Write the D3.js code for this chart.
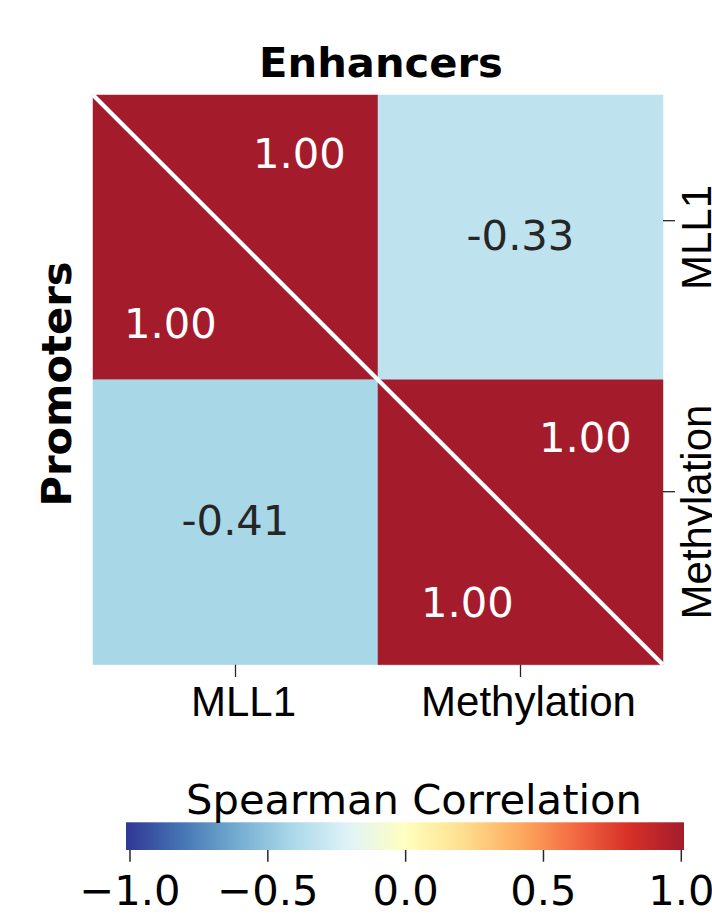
<!DOCTYPE html>
<html>
<head>
<meta charset="utf-8">
<script src="https://cdn.jsdelivr.net/npm/d3@7"></script>
<style>
  html, body { margin: 0; padding: 0; background: #ffffff; }
  svg { display: block; }
</style>
</head>
<body>
<svg id="chart" width="712" height="918"></svg>
<script>
// Variables compared in both correlation matrices
const variables = ["MLL1", "Methylation"];

// Spearman correlations: enhancers fill the upper triangle, promoters the lower one
const enhancerCorr = [
  [1.00, -0.33],
  [-0.33, 1.00]
];
const promoterCorr = [
  [1.00, -0.41],
  [-0.41, 1.00]
];

const colorbarTicks = [-1.0, -0.5, 0.0, 0.5, 1.0];
const titleTop = "Enhancers";
const titleLeft = "Promoters";
const colorbarLabel = "Spearman Correlation";

// RdYlBu (reversed) anchor colours, evenly spaced over [-1, 1]
const paletteStops = ["#313695", "#4575b4", "#74add1", "#abd9e9", "#e0f3f8",
                      "#ffffbf", "#fee090", "#fdae61", "#f46d43", "#d73027", "#a41c2c"];

const svg = d3.select("#chart");

const plot = { left: 93, right: 663, top: 95, bottom: 664.7 };

const x = d3.scaleBand().domain(variables).range([plot.left, plot.right]);
const y = d3.scaleBand().domain(variables).range([plot.top, plot.bottom]);

const color = d3.scaleLinear()
  .domain(paletteStops.map((_, i) => -1 + i * 2 / (paletteStops.length - 1)))
  .range(paletteStops)
  .clamp(true);

const numFont = "'DejaVu Sans', sans-serif";
const tickFont = "'Liberation Sans', Arial, sans-serif";
// cell annotations use a plain hyphen for negatives
const fmt = v => d3.format(".2f")(v).replace("\u2212", "-");
const textColor = v => (Math.abs(v) > 0.6 ? "#ffffff" : "#262626");

// Offsets (px) of the two labels inside each split diagonal cell
const diagLabelShift = [
  { upper: [64, -69], lower: [-65, 101] },
  { upper: [65, -70], lower: [-53, 95] }
];

const cells = svg.append("g");
const diag = svg.append("g");
const labels = svg.append("g");

variables.forEach((rowVar, i) => {
  variables.forEach((colVar, j) => {
    const x0 = x(colVar), y0 = y(rowVar);
    const w = x.bandwidth(), h = y.bandwidth();
    const cx = x0 + w / 2, cy = y0 + h / 2;
    if (i === j) {
      // upper-right triangle: enhancers
      const ve = enhancerCorr[i][j];
      cells.append("path")
        .attr("d", `M${x0},${y0}L${x0 + w},${y0}L${x0 + w},${y0 + h}Z`)
        .attr("fill", color(ve))
        .attr("stroke", color(ve)).attr("stroke-width", 0.5);
      // lower-left triangle: promoters
      const vp = promoterCorr[i][j];
      cells.append("path")
        .attr("d", `M${x0},${y0}L${x0},${y0 + h}L${x0 + w},${y0 + h}Z`)
        .attr("fill", color(vp))
        .attr("stroke", color(vp)).attr("stroke-width", 0.5);
      const s = diagLabelShift[i];
      labels.append("text")
        .attr("x", cx + s.upper[0]).attr("y", cy + s.upper[1])
        .attr("text-anchor", "middle")
        .attr("font-family", numFont).attr("font-size", 41.67)
        .attr("fill", textColor(ve))
        .text(fmt(ve));
      labels.append("text")
        .attr("x", cx + s.lower[0]).attr("y", cy + s.lower[1])
        .attr("text-anchor", "middle")
        .attr("font-family", numFont).attr("font-size", 41.67)
        .attr("fill", textColor(vp))
        .text(fmt(vp));
    } else {
      const v = j > i ? enhancerCorr[i][j] : promoterCorr[i][j];
      cells.append("rect")
        .attr("x", x0).attr("y", y0).attr("width", w).attr("height", h)
        .attr("fill", color(v))
        .attr("stroke", color(v)).attr("stroke-width", 0.5);
      labels.append("text")
        .attr("x", cx).attr("y", cy + 12.5)
        .attr("text-anchor", "middle")
        .attr("font-family", numFont).attr("font-size", 41.67)
        .attr("fill", textColor(v))
        .text(fmt(v));
    }
  });
});

// White diagonal separating the two matrices
diag.append("line")
  .attr("x1", plot.left).attr("y1", plot.top)
  .attr("x2", plot.right).attr("y2", plot.bottom)
  .attr("stroke", "#ffffff").attr("stroke-width", 4.2);

// Bottom axis
const bottomAxis = svg.append("g");
variables.forEach(v => {
  const tx = x(v) + x.bandwidth() / 2;
  bottomAxis.append("line")
    .attr("x1", tx).attr("x2", tx)
    .attr("y1", plot.bottom).attr("y2", plot.bottom + 12.3)
    .attr("stroke", "#262626").attr("stroke-width", 1.3);
  bottomAxis.append("text")
    .attr("x", tx + 8).attr("y", 715.5)
    .attr("text-anchor", "middle")
    .attr("font-family", tickFont).attr("font-size", 42)
    .attr("fill", "#000000")
    .text(v);
});

// Right axis (ticks sit on their own scale)
const yRight = d3.scalePoint().domain(variables).range([220.7, 491.7]);
const rightLabelY = d3.scalePoint().domain(variables).range([237.5, 512]);
const rightAxis = svg.append("g");
variables.forEach(v => {
  const ty = yRight(v);
  rightAxis.append("line")
    .attr("x1", plot.right).attr("x2", plot.right + 12)
    .attr("y1", ty).attr("y2", ty)
    .attr("stroke", "#262626").attr("stroke-width", 1.3);
  rightAxis.append("text")
    .attr("transform", `translate(710.5,${rightLabelY(v)}) rotate(-90)`)
    .attr("text-anchor", "middle")
    .attr("font-family", tickFont).attr("font-size", 42)
    .attr("fill", "#000000")
    .text(v);
});

// Titles
svg.append("text")
  .attr("x", 381).attr("y", 77)
  .attr("text-anchor", "middle")
  .attr("font-family", numFont).attr("font-weight", "bold").attr("font-size", 41.67)
  .attr("fill", "#000000")
  .text(titleTop);

svg.append("text")
  .attr("transform", "translate(71,384) rotate(-90)")
  .attr("text-anchor", "middle")
  .attr("font-family", numFont).attr("font-weight", "bold").attr("font-size", 41.67)
  .attr("fill", "#000000")
  .text(titleLeft);

// Colour bar
const cb = { left: 126, right: 684, top: 822.3, bottom: 850 };
const cbScale = d3.scaleLinear().domain([-1, 1]).range([130, 681.3]);

const defs = svg.append("defs");
const grad = defs.append("linearGradient")
  .attr("id", "cbGrad")
  .attr("x1", "0%").attr("x2", "100%").attr("y1", "0%").attr("y2", "0%");
d3.range(0, 1.0001, 1 / 64).forEach(t => {
  grad.append("stop")
    .attr("offset", `${t * 100}%`)
    .attr("stop-color", color(-1 + 2 * t));
});

svg.append("rect")
  .attr("x", cb.left).attr("y", cb.top)
  .attr("width", cb.right - cb.left).attr("height", cb.bottom - cb.top)
  .attr("fill", "url(#cbGrad)");

const cbAxis = svg.append("g");
colorbarTicks.forEach(t => {
  const tx = cbScale(t);
  cbAxis.append("line")
    .attr("x1", tx).attr("x2", tx)
    .attr("y1", cb.bottom).attr("y2", cb.bottom + 11.7)
    .attr("stroke", "#262626").attr("stroke-width", 1.5);
  cbAxis.append("text")
    .attr("x", tx).attr("y", 905)
    .attr("text-anchor", "middle")
    .attr("font-family", numFont).attr("font-size", 41.67)
    .attr("fill", "#000000")
    .text(d3.format(".1f")(t).replace("-", "\u2212"));
});

svg.append("text")
  .attr("x", 414).attr("y", 814)
  .attr("text-anchor", "middle")
  .attr("font-family", numFont).attr("font-size", 41.67)
  .attr("fill", "#000000")
  .text(colorbarLabel);
</script>
</body>
</html>
